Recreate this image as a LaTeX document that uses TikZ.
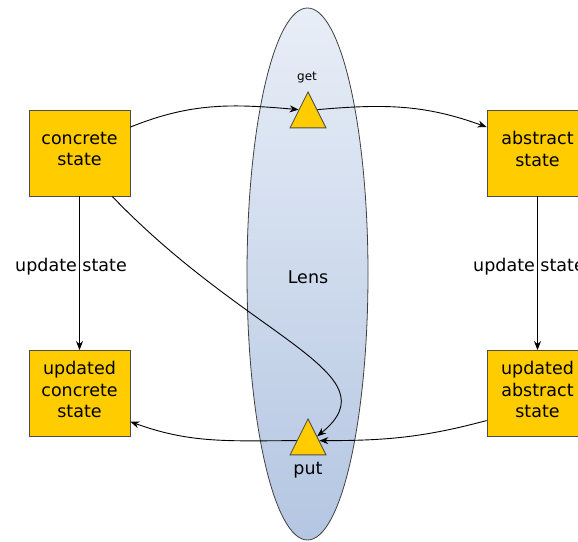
\documentclass[tikz,border=0pt]{standalone}
\usepackage{fontspec}
\setmainfont{DejaVu Sans}
\usetikzlibrary{arrows.meta, shapes.geometric}
\definecolor{statec}{HTML}{FFCC00}
\definecolor{lenstop}{HTML}{E8EEF7}
\definecolor{lensbot}{HTML}{B4C6E2}

\begin{document}
\begin{tikzpicture}[x=1pt, y=1pt, >={Stealth[length=9pt, width=7pt]},
    line width=0.9pt, font=\fontsize{17.5}{21.5}\selectfont,
    box/.style={draw=black!70, fill=statec, minimum width=101pt,
      minimum height=86pt, align=center, inner sep=0pt, text depth=8pt,
      line width=0.8pt},
    tri/.style={isosceles triangle, isosceles triangle apex angle=53,
      isosceles triangle stretches, shape border rotate=90,
      draw=black!70, fill=statec, inner sep=0pt, line width=0.8pt,
      minimum height=36pt, minimum width=36pt}]
  \useasboundingbox (0,0) rectangle (578,541);
  % the lens
  \draw[black!75, line width=0.8pt, top color=lenstop, bottom color=lensbot]
    (307.5,267) ellipse (60.5 and 266);
  \node (lens) at (308,264) {Lens};

  \node[box] (concrete) at (79.5,388) {concrete\\state};
  \node[box] (abstract) at (537.5,388) {abstract\\state};
  \node[box] (updcon) at (79.5,147.5) {updated\\concrete\\state};
  \node[box] (updabs) at (537.5,147.5) {updated\\abstract\\state};

  \node[tri, anchor=apex] (get) at (308,450) {};
  \node[tri, anchor=apex] (put) at (308,123) {};
  \node[font=\fontsize{12}{14}\selectfont] (getlbl) at (307,463.5) {get};
  \node (putlbl) at (308,71) {put};

  \draw[->] (concrete.27) to[out=22, in=175] (get.left side);
  \draw[->] (get.right side) to[out=5, in=160] (abstract.153);
  \draw[->] (concrete) -- node[xshift=-8.5pt, yshift=7pt] (updl) {update state} (updcon);
  \draw[->] (abstract) -- node[xshift=-8.5pt, yshift=7pt] (updr) {update state} (updabs);
  \draw[->] (updabs.208) to[out=195, in=0] ([xshift=2pt, yshift=-4pt]put.right side);
  \draw[->] ([xshift=-2pt, yshift=-4pt]put.left side) to[out=180, in=-20] (updcon.-29);
  \draw[->] (concrete.-53) .. controls (250,201) and (395,168) .. (put);
\end{tikzpicture}
\end{document}
